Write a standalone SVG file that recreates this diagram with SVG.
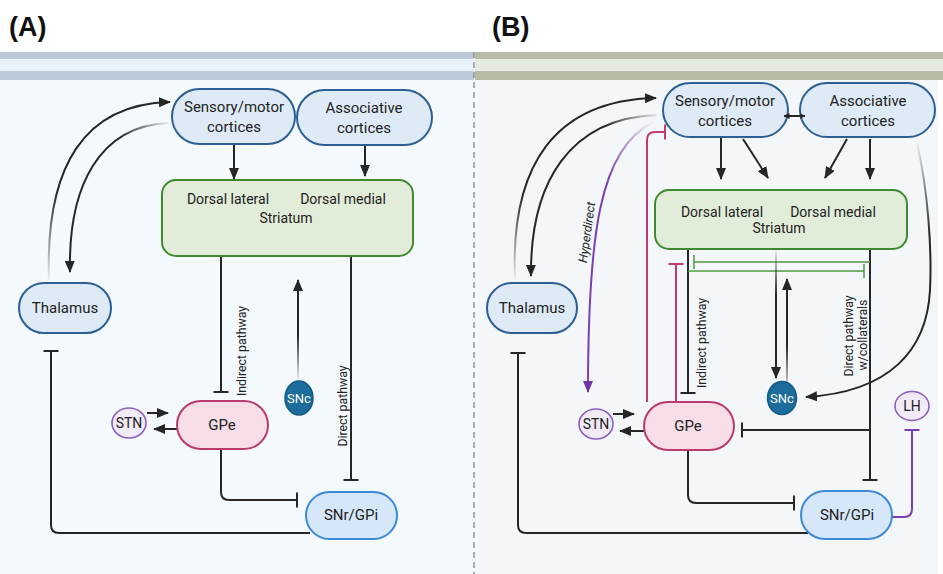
<svg xmlns="http://www.w3.org/2000/svg" width="943" height="574" viewBox="0 0 943 574">
<style>
text{font-family:Roboto,"Liberation Sans",Arial,sans-serif;fill:#222;}
.n{font-size:15px;text-anchor:middle;}
.s{font-size:14px;text-anchor:middle;}
.lbl{font-size:12.3px;text-anchor:middle;}
.hd{font-family:"Liberation Sans",Arial,sans-serif;font-size:27px;font-weight:bold;fill:#111;}
.ctx{fill:#deebf7;stroke:#2d5f95;stroke-width:2;}
.str{fill:#e2edd9;stroke:#3f8a30;stroke-width:2;}
.gpe{fill:#f6dde8;stroke:#b93a6d;stroke-width:2;}
.stn{fill:#f2ebf7;stroke:#8a5ec2;stroke-width:1.6;}
.snc{fill:#1c6c9c;stroke:#135a85;stroke-width:1.5;}
.snr{fill:#d5e7f8;stroke:#3d8bd6;stroke-width:2;}
.w{fill:#fff;font-size:13px;text-anchor:middle;}
.k{fill:none;stroke:#262626;stroke-width:2;}
.pk{fill:none;stroke:#c23a72;stroke-width:2;}
.gr{fill:none;stroke:#4f9a3f;stroke-width:1.5;}
.pu{fill:none;stroke:#7a3fb0;stroke-width:2;}
</style>
<defs>
<marker id="ah" viewBox="0 0 12 10" refX="11" refY="5" markerWidth="12" markerHeight="10" markerUnits="userSpaceOnUse" orient="auto"><path d="M0,0 L12,5 L0,10 z" fill="#262626"/></marker>
<marker id="ahs" viewBox="0 0 6 6" refX="5.5" refY="3" markerWidth="6" markerHeight="6" markerUnits="userSpaceOnUse" orient="auto-start-reverse"><path d="M0,0 L6,3 L0,6 z" fill="#262626"/></marker>
<marker id="ahp" viewBox="0 0 12 10" refX="11" refY="5" markerWidth="12" markerHeight="10" markerUnits="userSpaceOnUse" orient="auto"><path d="M0,0 L12,5 L0,10 z" fill="#6f35a8"/></marker>
<marker id="tb" viewBox="-1.5 -8 3 16" refX="0" refY="0" markerWidth="3" markerHeight="16" markerUnits="userSpaceOnUse" orient="auto"><path d="M0,-7.5 V7.5" stroke="#262626" stroke-width="2"/></marker>
<marker id="tbp" viewBox="-1.5 -8 3 16" refX="0" refY="0" markerWidth="3" markerHeight="16" markerUnits="userSpaceOnUse" orient="auto"><path d="M0,-7.5 V7.5" stroke="#c23a72" stroke-width="2"/></marker>
<marker id="tbg" viewBox="-1.5 -8 3 16" refX="0" refY="0" markerWidth="3" markerHeight="16" markerUnits="userSpaceOnUse" orient="auto"><path d="M0,-7 V7" stroke="#4f9a3f" stroke-width="1.5"/></marker>
<marker id="tbu" viewBox="-1.5 -8 3 16" refX="0" refY="0" markerWidth="3" markerHeight="16" markerUnits="userSpaceOnUse" orient="auto"><path d="M0,-7.5 V7.5" stroke="#7a3fb0" stroke-width="2"/></marker>
<linearGradient id="gA1" gradientUnits="userSpaceOnUse" x1="49" y1="280" x2="60" y2="195"><stop offset="0" stop-color="#262626" stop-opacity="0.05"/><stop offset="1" stop-color="#262626"/></linearGradient>
<linearGradient id="gA2" gradientUnits="userSpaceOnUse" x1="168" y1="123" x2="120" y2="138"><stop offset="0" stop-color="#262626" stop-opacity="0.08"/><stop offset="1" stop-color="#262626"/></linearGradient>
<linearGradient id="gA3" gradientUnits="userSpaceOnUse" x1="298" y1="380" x2="298" y2="335"><stop offset="0" stop-color="#262626" stop-opacity="0.05"/><stop offset="1" stop-color="#262626"/></linearGradient>
<linearGradient id="gB1" gradientUnits="userSpaceOnUse" x1="515" y1="280" x2="525" y2="195"><stop offset="0" stop-color="#262626" stop-opacity="0.05"/><stop offset="1" stop-color="#262626"/></linearGradient>
<linearGradient id="gB2" gradientUnits="userSpaceOnUse" x1="657" y1="115" x2="605" y2="128"><stop offset="0" stop-color="#262626" stop-opacity="0.08"/><stop offset="1" stop-color="#262626"/></linearGradient>
<linearGradient id="gB3" gradientUnits="userSpaceOnUse" x1="653" y1="122" x2="608" y2="175"><stop offset="0" stop-color="#7a3fb0" stop-opacity="0.05"/><stop offset="1" stop-color="#7a3fb0"/></linearGradient>
<linearGradient id="gB4" gradientUnits="userSpaceOnUse" x1="776" y1="250" x2="776" y2="295"><stop offset="0" stop-color="#262626" stop-opacity="0.05"/><stop offset="1" stop-color="#262626"/></linearGradient>
<linearGradient id="gB5" gradientUnits="userSpaceOnUse" x1="787" y1="392" x2="787" y2="345"><stop offset="0" stop-color="#262626" stop-opacity="0.05"/><stop offset="1" stop-color="#262626"/></linearGradient>
<linearGradient id="gB6" gradientUnits="userSpaceOnUse" x1="917" y1="143" x2="930" y2="235"><stop offset="0" stop-color="#262626" stop-opacity="0.05"/><stop offset="1" stop-color="#262626"/></linearGradient>
</defs>

<rect x="0" y="0" width="943" height="574" fill="#ffffff"/>
<g id="backgrounds">
<rect x="0" y="80" width="474" height="494" fill="#f4f9fd"/>
<rect x="475" y="80" width="463" height="494" fill="#f3f7f9"/>
<rect x="0" y="52" width="474" height="28" fill="#bccad7"/>
<rect x="0" y="59" width="474" height="12" fill="#e8f2fa"/>
<rect x="475" y="52" width="468" height="28" fill="#b8bba8"/>
<rect x="475" y="59" width="468" height="12" fill="#e5ebde"/>
<line x1="474" y1="52" x2="474" y2="574" stroke="#777" stroke-width="1.2" stroke-dasharray="6 4"/>
</g>
<text class="hd" x="9" y="36">(A)</text>
<text class="hd" x="492" y="36">(B)</text>

<g id="connectors">
<!-- Panel A -->
<path d="M49,280 C45,165 85,104 170,102" stroke="url(#gA1)" stroke-width="2" fill="none" marker-end="url(#ah)"/>
<path d="M168,123 C100,126 68,185 70,272" stroke="url(#gA2)" stroke-width="2" fill="none" marker-end="url(#ah)"/>
<path class="k" d="M234,144 V179" marker-end="url(#ah)"/>
<path class="k" d="M365,145 V176" marker-end="url(#ah)"/>
<path class="k" d="M221,257 V392" marker-end="url(#tb)"/>
<path class="k" d="M351,257 V480" marker-end="url(#tb)"/>
<path d="M298,380 V280" stroke="url(#gA3)" stroke-width="2" fill="none" marker-end="url(#ah)"/>
<path class="k" d="M147,413 H168" marker-end="url(#ah)"/>
<path class="k" d="M177,429 H154" marker-end="url(#ah)"/>
<path class="k" d="M221,449 V492 Q221,500 229,500 H297" marker-end="url(#tb)"/>
<path class="k" d="M310,533 H59 Q51,533 51,525 V351" marker-end="url(#tb)"/>
<text class="lbl" transform="translate(246,351) rotate(-90)">Indirect pathway</text>
<text class="lbl" transform="translate(347,406) rotate(-90)">Direct pathway</text>

<!-- Panel B -->
<path d="M515,280 C510,165 555,100 656,98" stroke="url(#gB1)" stroke-width="2" fill="none" marker-end="url(#ah)"/>
<path d="M657,115 C570,118 530,182 531,276" stroke="url(#gB2)" stroke-width="2" fill="none" marker-end="url(#ah)"/>
<path d="M653,122 C600,150 588,230 588,392" stroke="url(#gB3)" stroke-width="2" fill="none" marker-end="url(#ahp)"/>
<text class="lbl" style="font-style:italic" transform="translate(591,233) rotate(-82)">Hyperdirect</text>
<path class="k" d="M721,138 V179" marker-end="url(#ah)"/>
<path class="k" d="M743,139 L768,178" marker-end="url(#ah)"/>
<path class="k" d="M847,139 L825,178" marker-end="url(#ah)"/>
<path class="k" d="M870,139 V179" marker-end="url(#ah)"/>
<path class="pk" d="M647,402 V140 Q647,132 655,132 H665" marker-end="url(#tbp)"/>
<path class="pk" d="M676,402 V264" marker-end="url(#tbp)"/>
<path class="k" d="M688,249 V393" marker-end="url(#tb)"/>
<path class="k" d="M870,249 V480" marker-end="url(#tb)"/>
<path class="k" d="M870,430 H742" marker-end="url(#tb)"/>
<path class="gr" d="M870,262 H694" marker-end="url(#tbg)"/>
<path class="gr" d="M688,271 H864" marker-end="url(#tbg)"/>
<path d="M776,250 V378" stroke="url(#gB4)" stroke-width="2" fill="none" marker-end="url(#ah)"/>
<path d="M787,392 V279" stroke="url(#gB5)" stroke-width="2" fill="none" marker-end="url(#ah)"/>
<path d="M917,143 C928,190 932,250 930,290 C927,350 890,392 806,397" stroke="url(#gB6)" stroke-width="2" fill="none" marker-end="url(#ah)"/>
<path class="k" d="M613,414 H634" marker-end="url(#ah)"/>
<path class="k" d="M644,431 H620" marker-end="url(#ah)"/>
<path class="k" d="M688,450 V495 Q688,503 696,503 H794" marker-end="url(#tb)"/>
<path class="k" d="M808,533 H526 Q518,533 518,525 V353" marker-end="url(#tb)"/>
<path class="pu" d="M891,517 H904 Q912,517 912,509 V430" marker-end="url(#tbu)"/>
<text class="lbl" transform="translate(706,343) rotate(-90)">Indirect pathway</text>
<text class="lbl" transform="translate(853,336) rotate(-90)">Direct pathway</text>
<text class="lbl" transform="translate(867,335) rotate(-90)">w/collaterals</text>
</g>

<!-- Panel A nodes -->
<g id="A-sensory"><rect class="ctx" x="172" y="89" width="123" height="55" rx="27.5"/><text class="n" x="234" y="112">Sensory/motor</text><text class="n" x="234" y="132">cortices</text></g>
<g id="A-assoc"><rect class="ctx" x="297" y="90" width="135" height="55" rx="27.5"/><text class="n" x="364" y="113">Associative</text><text class="n" x="364" y="133">cortices</text></g>
<g id="A-striatum"><rect class="str" x="162" y="180" width="251" height="76" rx="14"/><text class="s" x="228" y="204">Dorsal lateral</text><text class="s" x="343" y="204">Dorsal medial</text><text class="s" x="286" y="223">Striatum</text></g>
<g id="A-thalamus"><rect class="ctx" x="19" y="283" width="92" height="50" rx="25"/><text class="n" x="65" y="313">Thalamus</text></g>
<g id="A-gpe"><rect class="gpe" x="177" y="401" width="91" height="48" rx="24"/><text class="n" x="222" y="430">GPe</text></g>
<g id="A-stn"><ellipse class="stn" cx="129" cy="423" rx="17" ry="15"/><text class="s" x="129" y="428">STN</text></g>
<g id="A-snc"><ellipse class="snc" cx="299" cy="398" rx="14" ry="17"/><text class="w" x="299" y="403">SNc</text></g>
<g id="A-snr"><rect class="snr" x="306" y="492" width="91" height="47" rx="23.5"/><text class="n" x="351" y="520">SNr/GPi</text></g>

<!-- Panel B nodes -->
<g id="B-sensory"><rect class="ctx" x="663" y="83" width="125" height="54" rx="27"/><text class="n" x="725" y="106">Sensory/motor</text><text class="n" x="725" y="126">cortices</text></g>
<g id="B-assoc"><rect class="ctx" x="800" y="83" width="135" height="54" rx="27"/><text class="n" x="868" y="106">Associative</text><text class="n" x="868" y="126">cortices</text></g>
<g id="B-striatum"><rect class="str" x="655" y="190" width="252" height="59" rx="14"/><text class="s" x="722" y="217">Dorsal lateral</text><text class="s" x="833" y="217">Dorsal medial</text><text class="s" x="779" y="233">Striatum</text></g>
<g id="B-thalamus"><rect class="ctx" x="487" y="283" width="90" height="50" rx="25"/><text class="n" x="532" y="313">Thalamus</text></g>
<g id="B-gpe"><rect class="gpe" x="644" y="402" width="90" height="48" rx="24"/><text class="n" x="688" y="431">GPe</text></g>
<g id="B-stn"><ellipse class="stn" cx="596" cy="424" rx="17" ry="15"/><text class="s" x="596" y="429">STN</text></g>
<g id="B-snc"><ellipse class="snc" cx="782" cy="398" rx="14.5" ry="16.5"/><text class="w" x="782" y="403">SNc</text></g>
<g id="B-lh"><ellipse class="stn" cx="912" cy="406" rx="17" ry="14.5"/><text class="s" x="912" y="411">LH</text></g>
<g id="B-snr"><rect class="snr" x="801" y="491" width="91" height="48" rx="24"/><text class="n" x="847" y="520">SNr/GPi</text></g>

<g id="connectors-over-nodes">
<path class="k" d="M784,116 H805" stroke-width="1.5" marker-start="url(#ahs)" marker-end="url(#ahs)"/>
</g>
</svg>
